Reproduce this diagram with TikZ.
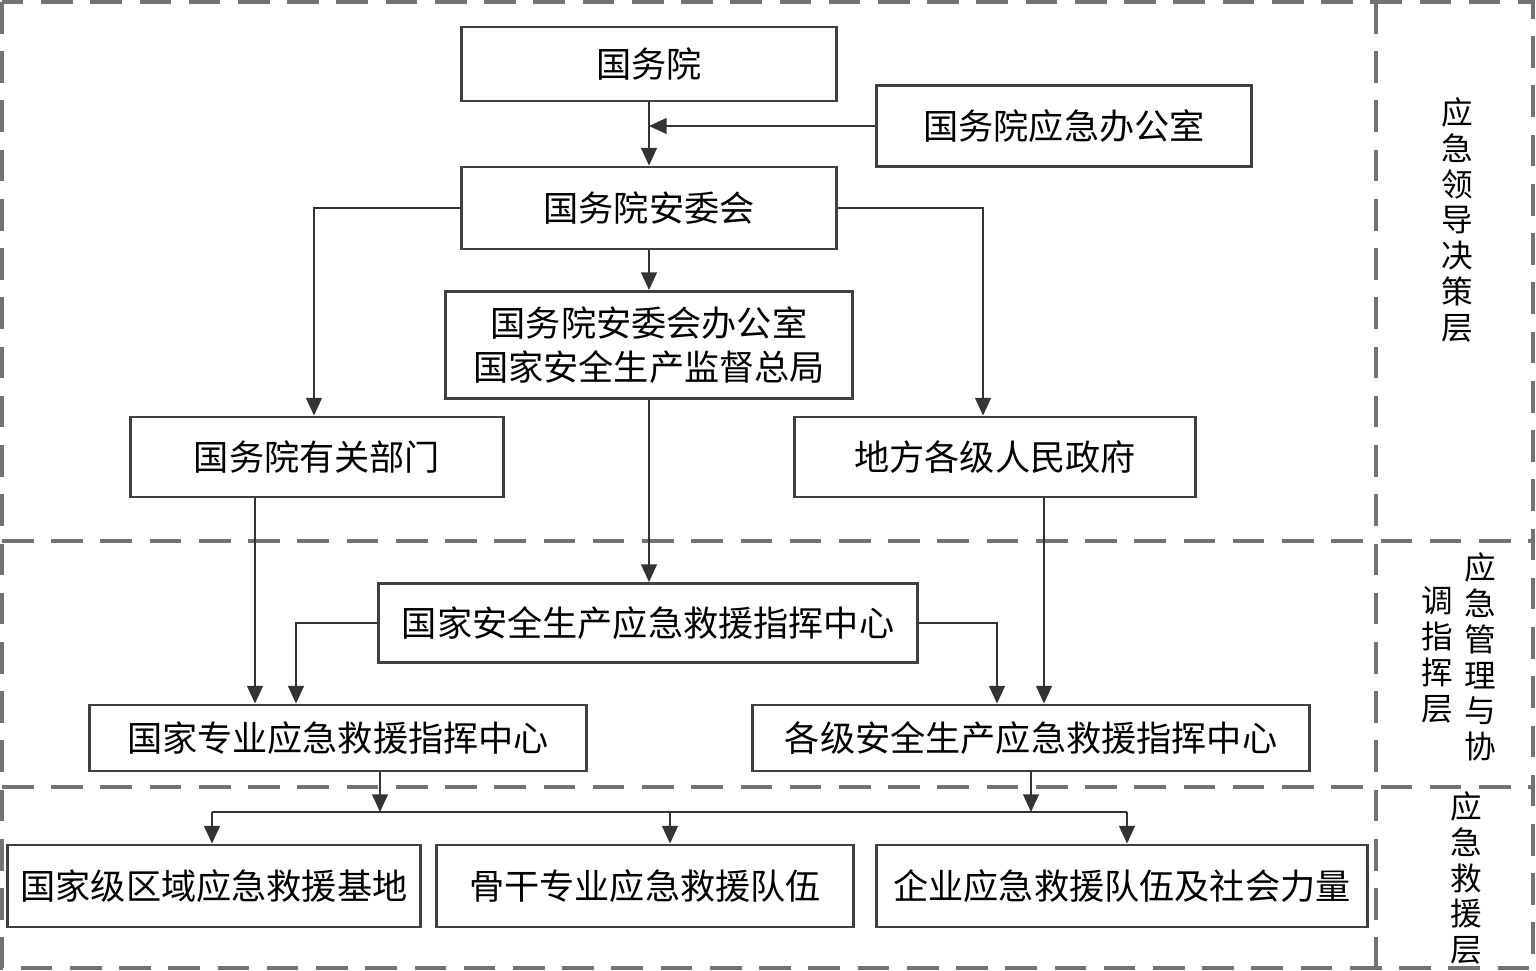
\documentclass[tikz,border=0pt]{standalone}
\usepackage{fontspec}
\setmainfont{Noto Sans CJK SC}
\usetikzlibrary{calc, arrows.meta}

\begin{document}
\begin{tikzpicture}[x=0.01cm, y=-0.01cm]
    \tikzstyle{box} = [rectangle, draw=black!75, thick, inner sep=0pt,
        font=\fontsize{10}{12.5}\selectfont, align=center]
    \tikzstyle{link} = [black!80, -{Triangle[length=5pt, width=4.5pt]}]
    \tikzstyle{layer} = [font=\fontsize{9}{10.2}\selectfont, align=center]
    \tikzstyle{frame} = [black!55, line width=1.4pt, dash pattern=on 9pt off 5pt]

    \useasboundingbox (0, 0) rectangle (1536, 971);

    % Frame ---------------------------------------------
    \draw[frame] (2, 2) rectangle (1533, 968);
    \draw[frame] (1376, 2) -- (1376, 968);
    \draw[frame] (2, 541) -- (1533, 541);
    \draw[frame] (2, 787) -- (1533, 787);

    % Layers
    \node (L1) at (1457, 220) [layer] {应\\急\\领\\导\\决\\策\\层};
    \node (L2a) at (1480, 657) [layer] {应\\急\\管\\理\\与\\协};
    \node (L2b) at (1437, 655) [layer] {调\\指\\挥\\层};
    \node (L3) at (1466, 878) [layer] {应\\急\\救\\援\\层};
    % ---------------------------------------------------

    % Leading ------------------------------------------
    \node (gwy) at (649, 64) [box, minimum width=3.74cm, minimum height=.74cm] {国务院};
    \node (yjb) at (1064, 126) [box, minimum width=3.74cm, minimum height=.81cm] {国务院应急办公室};
    \node (awh) at (649, 208) [box, minimum width=3.74cm, minimum height=.82cm] {国务院安委会};
    \node (awb) at (649, 345) [box, minimum width=4.07cm, minimum height=1.07cm]
        {国务院安委会办公室\\国家安全生产监督总局};
    \node (bm) at (317, 457) [box, minimum width=3.73cm, minimum height=.8cm] {国务院有关部门};
    \node (zf) at (995, 457) [box, minimum width=4.01cm, minimum height=.8cm] {地方各级人民政府};

    % Coordinating -------------------------------------
    \node (zx) at (648, 623) [box, minimum width=5.39cm, minimum height=.79cm] {国家安全生产应急救援指挥中心};
    \node (zyzx) at (338, 738) [box, minimum width=4.97cm, minimum height=.66cm] {国家专业应急救援指挥中心};
    \node (gjzx) at (1031, 738) [box, minimum width=5.56cm, minimum height=.66cm] {各级安全生产应急救援指挥中心};

    % Rescue -------------------------------------------
    \node (jd) at (214, 886) [box, minimum width=4.12cm, minimum height=.82cm] {国家级区域应急救援基地};
    \node (gg) at (645, 886) [box, minimum width=4.16cm, minimum height=.82cm] {骨干专业应急救援队伍};
    \node (qy) at (1122, 886) [box, minimum width=4.91cm, minimum height=.82cm] {企业应急救援队伍及社会力量};
    % ---------------------------------------------------

    % Connectors
    \coordinate (m1) at (649, 126);
    \draw[link] (gwy) -- (awh);
    \draw[link] (yjb.west) -- (m1);
    \draw[link] (awh) -- (awb);
    \draw[link] (awh.west) -| ($(bm.north) + (-3, 0)$);
    \draw[link] (awh.east) -| ($(zf.north) + (-12, 0)$);
    \draw[link] (awb) -- (awb |- zx.north);
    \draw[link] ($(bm.south) + (-62, 0)$) -- ($(zyzx.north) + (-83, 0)$);
    \draw[link] (zx.west) -| ($(zyzx.north) + (-42, 0)$);
    \draw[link] (zx.east) -| ($(gjzx.north) + (-34, 0)$);
    \draw[link] ($(zf.south) + (49, 0)$) -- ($(gjzx.north) + (13, 0)$);

    % Bus
    \coordinate (b1) at (380, 812);
    \coordinate (b2) at (1031, 812);
    \coordinate (t1) at (212, 812);
    \coordinate (t2) at (670, 812);
    \coordinate (t3) at (1127, 812);
    \draw[link] ($(zyzx.south) + (42, 0)$) -- (b1);
    \draw[link] (gjzx.south) -- (b2);
    \draw[black!80] (t1) -- (t3);
    \draw[link] (t1) -- (t1 |- jd.north);
    \draw[link] (t2) -- (t2 |- gg.north);
    \draw[link] (t3) -- (t3 |- qy.north);
\end{tikzpicture}
\end{document}
